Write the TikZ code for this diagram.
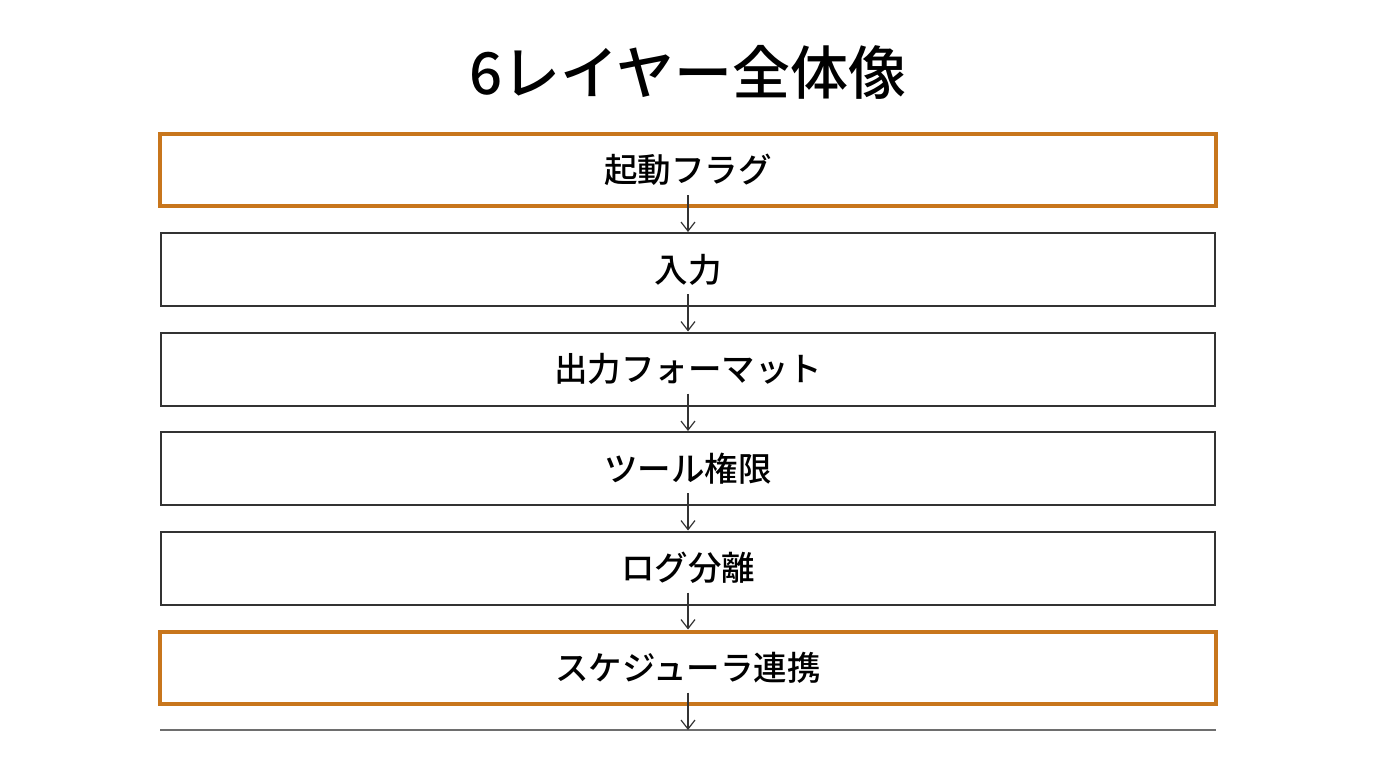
\documentclass[tikz,border=0pt]{standalone}
\usepackage{fontspec}
\setmainfont{Noto Sans CJK JP Medium}
\usetikzlibrary{arrows.meta}
\definecolor{orangeb}{HTML}{C8761C}
\definecolor{darkb}{HTML}{333333}
\definecolor{grayl}{HTML}{6E6E6E}
\tikzset{
  layer/.style={draw=darkb, line width=2pt, minimum width=1054pt, minimum height=73pt, inner sep=0pt, font=\fontsize{33.5}{36}\selectfont, text=black},
  hilite/.style={layer, draw=orangeb, line width=4pt, minimum width=1056pt, minimum height=72pt},
  flow/.style={draw=darkb, line width=1.2pt, -{Straight Barb[length=9pt,width=14pt,line width=1.2pt]}}
}
\begin{document}
\begin{tikzpicture}[x=1pt,y=-1pt]
\useasboundingbox[fill=white] (0,0) rectangle (1376,768);
\node[font=\fontsize{58}{62}\selectfont] (title) at (688,72) {6レイヤー全体像};
\node[hilite] (b1) at (688,170) {起動フラグ};
\node[layer] (b2) at (688,269.5) {入力};
\node[layer] (b3) at (688,369) {出力フォーマット};
\node[layer] (b4) at (688,468.5) {ツール権限};
\node[layer] (b5) at (688,568) {ログ分離};
\node[hilite] (b6) at (688,667.5) {スケジューラ連携};
\coordinate (bl) at (160,730);
\coordinate (br) at (1216,730);
\coordinate (bm) at (688,730);
\draw[grayl, line width=1.2pt] (bl) -- (br);
\draw[flow] ([yshift=13pt]b1.south) -- (b2.north);
\draw[flow] ([yshift=13pt]b2.south) -- (b3.north);
\draw[flow] ([yshift=13pt]b3.south) -- (b4.north);
\draw[flow] ([yshift=13pt]b4.south) -- (b5.north);
\draw[flow] ([yshift=13pt]b5.south) -- (b6.north);
\draw[flow] ([yshift=13pt]b6.south) -- (bm);
\end{tikzpicture}
\end{document}
